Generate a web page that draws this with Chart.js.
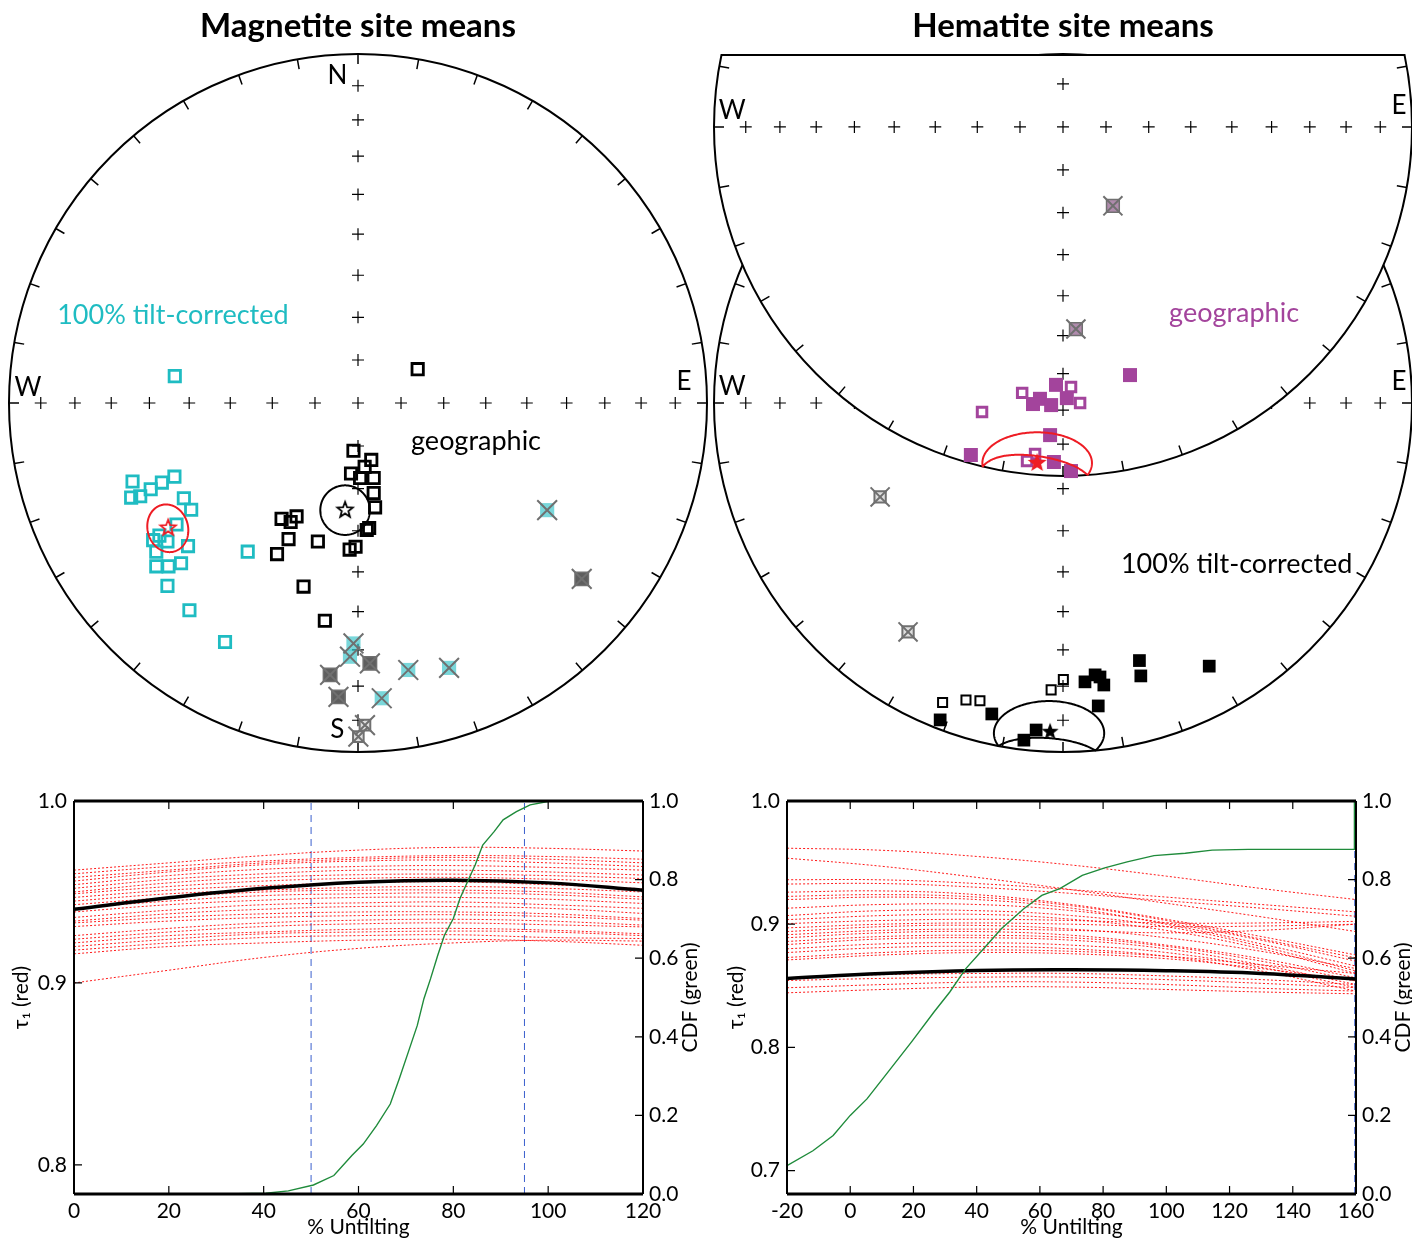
<!DOCTYPE html>
<html>
<head>
<meta charset="utf-8">
<script src="https://cdn.jsdelivr.net/npm/chart.js@4.4.0/dist/chart.umd.min.js"></script>
<style>
  body { margin: 0; background: #fff; }
  #fig { position: relative; width: 1412px; height: 1240px; overflow: hidden; }
  canvas { position: absolute; }
</style>
</head>
<body>
<div id="fig">
  <canvas id="magNet" width="710" height="770" style="left:0;top:0"></canvas>
  <canvas id="hemNet" width="706" height="770" style="left:706px;top:0"></canvas>
  <canvas id="magFold" width="710" height="470" style="left:0;top:770px"></canvas>
  <canvas id="hemFold" width="702" height="470" style="left:710px;top:770px"></canvas>
</div>
<script>
// site means on equal-area nets, unit radius, [east, north]
const magTiltSites = [[-0.646,-0.225],[-0.594,-0.247],[-0.562,-0.228],[-0.526,-0.211],[-0.650,-0.271],[-0.624,-0.267],
  [-0.499,-0.273],[-0.478,-0.306],[-0.520,-0.348],[-0.569,-0.380],[-0.546,-0.397],[-0.587,-0.393],[-0.578,-0.426],
  [-0.487,-0.410],[-0.578,-0.468],[-0.543,-0.468],[-0.507,-0.459],[-0.546,-0.524],[-0.483,-0.594],[-0.381,-0.685],
  [-0.316,-0.426],[-0.525,0.077]];
const magGeoSites = [[0.171,0.097],[-0.013,-0.137],[0.038,-0.163],[-0.020,-0.202],[0.019,-0.183],[0.006,-0.215],
  [0.045,-0.215],[0.045,-0.258],[0.049,-0.299],[0.032,-0.358],[0.025,-0.364],[-0.007,-0.412],[-0.024,-0.420],
  [-0.219,-0.332],[-0.176,-0.325],[-0.193,-0.341],[-0.199,-0.390],[-0.232,-0.433],[-0.115,-0.397],[-0.156,-0.526],
  [-0.095,-0.624]];
const magTiltRejected = [[-0.013,-0.689],[-0.023,-0.727],[0.068,-0.846],[0.144,-0.765],[0.261,-0.759],[0.542,-0.307]];
const magGeoRejected = [[0.034,-0.746],[-0.080,-0.779],[-0.056,-0.842],[0.641,-0.504]];
const magPoleRejected = [[0.020,-0.923],[0.001,-0.956]];
const magGeoMean = [-0.037,-0.304];
const magTiltMean = [-0.544,-0.355];
// confidence ellipses: centre x, centre y, semi-axis a, semi-axis b, rotation (deg)
const magGeoEllipse = [-0.037,-0.307,0.071,0.071,0];
const magTiltEllipse = [-0.545,-0.359,0.069,0.058,-75];

// hematite: geographic net sits above the tilt-corrected one
const GEO_SHIFT = 0.791;
const hemGeoFilled = [[-0.020,-0.739],[-0.066,-0.779],[-0.086,-0.794],[-0.034,-0.797],[0.011,-0.777],[0.192,-0.711],
  [-0.037,-0.883],[-0.264,-0.940],[-0.026,-0.960],[0.023,-0.986]];
const hemGeoOpen = [[-0.117,-0.762],[0.023,-0.745],[0.049,-0.791],[-0.232,-0.817],[-0.080,-0.937],[-0.103,-0.957]];
const hemGeoRejected = [[0.143,-0.226],[0.037,-0.579]];
const hemGeoMean = [-0.074,-0.960];
const hemGeoEllipse = [-0.074,-0.963,0.157,0.088,0];
const hemTiltFilled = [[0.219,-0.738],[0.419,-0.754],[0.223,-0.782],[0.063,-0.799],[0.092,-0.779],[0.106,-0.785],
  [0.117,-0.808],[0.101,-0.868],[-0.204,-0.891],[-0.352,-0.908],[-0.077,-0.937],[-0.112,-0.966]];
const hemTiltOpen = [[0.001,-0.792],[-0.034,-0.822],[-0.345,-0.858],[-0.278,-0.851],[-0.238,-0.853]];
const hemTiltRejected = [[-0.524,-0.269],[-0.444,-0.656]];
const hemTiltMean = [-0.037,-0.939];
const hemTiltEllipse = [-0.040,-0.946,0.158,0.092,0];

const netDips = [10, 20, 30, 40, 50, 60, 70, 80];
const magNetLabels = [['N',-0.059,0.938],['S',-0.059,-0.935],['W',-0.946,0.045],['E',0.934,0.060]];
const hemNetLabels = [['W',-0.948,0.046],['E',0.963,0.060]];

// fold test: tau1 against % untilting, bootstrap curves and CDF of maxima
const magUntilt = [0, 20, 40, 60, 80, 100, 120];
const magTauMean = [0.9405, 0.9468, 0.9520, 0.9554, 0.9565, 0.9550, 0.9510];
const magTauBoot = [
  [0.962,0.966,0.970,0.973,0.9745,0.974,0.9725],
  [0.960,0.964,0.967,0.969,0.970,0.9695,0.968],
  [0.958,0.962,0.966,0.968,0.969,0.968,0.966],
  [0.956,0.961,0.965,0.967,0.9675,0.966,0.964],
  [0.954,0.959,0.9625,0.964,0.9645,0.9635,0.962],
  [0.952,0.957,0.960,0.962,0.962,0.961,0.9593],
  [0.950,0.955,0.958,0.9595,0.9598,0.959,0.9574],
  [0.949,0.953,0.956,0.9575,0.958,0.957,0.955],
  [0.947,0.951,0.9535,0.955,0.9555,0.954,0.9518],
  [0.945,0.949,0.951,0.9525,0.953,0.952,0.950],
  [0.943,0.947,0.950,0.951,0.951,0.950,0.9473],
  [0.941,0.945,0.948,0.949,0.9495,0.9485,0.946],
  [0.939,0.943,0.9455,0.947,0.947,0.946,0.9437],
  [0.936,0.940,0.943,0.944,0.9445,0.943,0.941],
  [0.934,0.938,0.9405,0.942,0.942,0.941,0.9382],
  [0.933,0.936,0.938,0.939,0.939,0.938,0.9354],
  [0.931,0.934,0.936,0.937,0.9375,0.9365,0.9345],
  [0.926,0.930,0.933,0.9345,0.935,0.934,0.9318],
  [0.924,0.928,0.931,0.9325,0.933,0.932,0.9308],
  [0.922,0.926,0.928,0.9295,0.930,0.929,0.927],
  [0.920,0.924,0.927,0.928,0.9285,0.928,0.926],
  [0.918,0.922,0.925,0.926,0.9265,0.925,0.9244],
  [0.916,0.920,0.922,0.9235,0.924,0.923,0.9207],
  [0.900,0.907,0.914,0.919,0.922,0.9235,0.923]
];
const magCdf = [[31.4,0],[40.5,0.002],[45.2,0.008],[50.5,0.023],[54.8,0.047],[58.6,0.098],[61,0.127],[63.8,0.174],
  [66.7,0.229],[68.6,0.293],[70.5,0.361],[72.4,0.429],[73.8,0.497],[75.2,0.548],[76.7,0.607],[78.1,0.658],[80,0.701],
  [81.4,0.752],[83.3,0.803],[84.6,0.837],[86.2,0.888],[88.6,0.922],[90.5,0.952],[93.3,0.973],[96.2,0.990],[100.5,1.0]];
const magBounds = [50, 95];
const magTauTicks = [0.8, 0.9, 1.0];
const magUntiltTicks = [0, 20, 40, 60, 80, 100, 120];

const hemUntilt = [-20, 10, 40, 70, 100, 130, 160];
const hemTauMean = [0.8560, 0.8600, 0.8625, 0.8630, 0.8622, 0.8600, 0.8555];
const hemTauBoot = [
  [0.9617,0.9600,0.9550,0.9480,0.9390,0.9290,0.9200],
  [0.9536,0.9470,0.9380,0.9280,0.9170,0.9060,0.8940],
  [0.9361,0.9360,0.9330,0.9280,0.9220,0.9160,0.9100],
  [0.9326,0.9330,0.9300,0.9250,0.9190,0.9130,0.9064],
  [0.9260,0.9270,0.9240,0.9160,0.9040,0.8900,0.8750],
  [0.9226,0.9240,0.9220,0.9150,0.9030,0.8880,0.8727],
  [0.9200,0.9220,0.9200,0.9130,0.9000,0.8840,0.8660],
  [0.9130,0.9160,0.9160,0.9110,0.9010,0.8870,0.8700],
  [0.9070,0.9110,0.9110,0.9070,0.8980,0.8820,0.8620],
  [0.9037,0.9070,0.9080,0.9040,0.8950,0.8800,0.8600],
  [0.9005,0.9030,0.9040,0.9030,0.9010,0.9010,0.9023],
  [0.8970,0.9000,0.9010,0.9000,0.8980,0.8985,0.9000],
  [0.8940,0.8980,0.8990,0.8960,0.8890,0.8780,0.8640],
  [0.8915,0.8950,0.8960,0.8950,0.8930,0.8950,0.9000],
  [0.8890,0.8930,0.8940,0.8910,0.8830,0.8720,0.8565],
  [0.8860,0.8900,0.8910,0.8890,0.8820,0.8700,0.8540],
  [0.8835,0.8880,0.8890,0.8870,0.8800,0.8670,0.8510],
  [0.8800,0.8840,0.8850,0.8830,0.8770,0.8650,0.8485],
  [0.8770,0.8810,0.8820,0.8800,0.8740,0.8620,0.8457],
  [0.8730,0.8770,0.8790,0.8780,0.8740,0.8670,0.8600],
  [0.8710,0.8750,0.8770,0.8760,0.8720,0.8640,0.8540],
  [0.8565,0.8590,0.8600,0.8600,0.8580,0.8550,0.8510],
  [0.8543,0.8560,0.8570,0.8570,0.8550,0.8520,0.8485],
  [0.8484,0.8510,0.8530,0.8530,0.8510,0.8480,0.8457],
  [0.8443,0.8470,0.8490,0.8490,0.8470,0.8450,0.8435]
];
const hemCdf = [[-20,0],[-20,0.072],[-11.8,0.110],[-5.4,0.149],[0,0.2],[5.3,0.242],[12.3,0.314],[19.4,0.387],
  [26.5,0.463],[31.5,0.514],[36.5,0.573],[42.2,0.624],[47.8,0.675],[54.9,0.726],[60.6,0.760],[66.3,0.777],
  [73.4,0.811],[80.5,0.830],[87.6,0.845],[96.1,0.861],[106,0.867],[114.5,0.875],[125.9,0.877],[159.5,0.877],[159.5,1.0]];
const hemBounds = [159.6];
const hemTauTicks = [0.7, 0.8, 0.9, 1.0];
const hemUntiltTicks = [-20, 0, 20, 40, 60, 80, 100, 120, 140, 160];
const cdfTicks = [0, 0.2, 0.4, 0.6, 0.8, 1.0];

const FONT = 'Lato, "Noto Sans", sans-serif';
const CYAN = '#1fbcc2';
const MAGENTA = '#a3449c';
const RED = '#ee1c24';
const GREEN = '#1f8b3b';
const BLUE = '#3a5fcd';
const REJECT = '#707070';

// five-pointed star as a point image
function starImage(size, fill, stroke, lw) {
  const c = document.createElement('canvas');
  c.width = c.height = size;
  const g = c.getContext('2d');
  const ro = size / 2 - (stroke ? lw : 1), ri = ro * 0.42;
  g.beginPath();
  for (let i = 0; i < 10; i++) {
    const r = i % 2 ? ri : ro;
    const a = -Math.PI / 2 + i * Math.PI / 5;
    g.lineTo(size / 2 + r * Math.cos(a), size / 2 + 1 + r * Math.sin(a));
  }
  g.closePath();
  if (fill) { g.fillStyle = fill; g.fill(); }
  if (stroke) { g.lineWidth = lw; g.strokeStyle = stroke; g.stroke(); }
  return c;
}

function openSquare(color, r, lw, fill) {
  return { pointStyle: 'rect', pointRadius: r, pointBorderWidth: lw, pointBorderColor: color,
    pointBackgroundColor: fill || 'rgba(0,0,0,0)' };
}
function filledSquare(color, r, edge) {
  return { pointStyle: 'rect', pointRadius: r, pointBorderWidth: edge ? 1.5 : 0, pointBorderColor: edge || color,
    pointBackgroundColor: color };
}
function xMark(r) {
  return { pointStyle: 'crossRot', pointRadius: r, pointBorderWidth: 2, pointBorderColor: REJECT };
}
function markers(list, dy, style) {
  return Object.assign({ data: list.map(p => ({ x: p[0], y: p[1] + dy })), clip: false }, style);
}

function drawNet(chart, cy0, labels, cover) {
  const { ctx, chartArea: area, scales: { x, y } } = chart;
  const cx = x.getPixelForValue(0), cy = y.getPixelForValue(cy0);
  const R = x.getPixelForValue(1) - cx;
  ctx.save();
  ctx.beginPath();
  ctx.rect(0, cover ? area.top : 0, chart.width, chart.height);
  ctx.clip();
  ctx.beginPath();
  ctx.arc(cx, cy, R, 0, 2 * Math.PI);
  if (cover) { ctx.fillStyle = '#fff'; ctx.fill(); }
  ctx.strokeStyle = '#000';
  ctx.lineWidth = 2;
  ctx.stroke();
  if (cover) {
    const yt = area.top + 1, dx = Math.sqrt(R * R - (cy - yt) * (cy - yt));
    ctx.beginPath(); ctx.moveTo(cx - dx, yt); ctx.lineTo(cx + dx, yt); ctx.stroke();
  }
  ctx.lineWidth = 1.5;
  ctx.beginPath();
  for (let az = 0; az < 360; az += 10) {
    const s = Math.sin(az * Math.PI / 180), c = Math.cos(az * Math.PI / 180);
    ctx.moveTo(cx + s * R, cy - c * R);
    ctx.lineTo(cx + s * (R - 10), cy - c * (R - 10));
  }
  ctx.stroke();
  ctx.lineWidth = 1.2;
  ctx.beginPath();
  const offs = [0].concat(netDips.map(d => Math.SQRT2 * Math.sin((90 - d) / 2 * Math.PI / 180)));
  offs.forEach(r => {
    [[r, 0], [-r, 0], [0, r], [0, -r]].forEach(([u, v]) => {
      const px = cx + u * R, py = cy - v * R;
      ctx.moveTo(px - 6, py); ctx.lineTo(px + 6, py);
      ctx.moveTo(px, py - 6); ctx.lineTo(px, py + 6);
    });
  });
  ctx.stroke();
  ctx.fillStyle = '#000';
  ctx.font = `26px ${FONT}`;
  ctx.textAlign = 'center';
  ctx.textBaseline = 'middle';
  labels.forEach(([t, u, v]) => ctx.fillText(t, x.getPixelForValue(u), y.getPixelForValue(v + cy0)));
  ctx.restore();
}

// ellipse on the net; parts running past the primitive fold back inside
function drawEllipse(chart, e, dy, color) {
  const { ctx, scales: { x, y } } = chart;
  const [ex, ey, a, b, rotDeg] = e;
  const rot = rotDeg * Math.PI / 180;
  ctx.save();
  ctx.beginPath();
  for (let i = 0; i <= 240; i++) {
    const t = i / 240 * 2 * Math.PI;
    let u = ex + a * Math.cos(t) * Math.cos(rot) - b * Math.sin(t) * Math.sin(rot);
    let v = ey + a * Math.cos(t) * Math.sin(rot) + b * Math.sin(t) * Math.cos(rot);
    const r = Math.hypot(u, v);
    if (r > 1) { u *= (2 - r) / r; v *= (2 - r) / r; }
    const px = x.getPixelForValue(u), py = y.getPixelForValue(v + dy);
    if (i) ctx.lineTo(px, py); else ctx.moveTo(px, py);
  }
  ctx.strokeStyle = color;
  ctx.lineWidth = 2;
  ctx.stroke();
  ctx.restore();
}

function drawLabel(chart, text, pos, color) {
  const { ctx, scales: { x, y } } = chart;
  ctx.save();
  ctx.font = `27px ${FONT}`;
  ctx.fillStyle = color;
  ctx.textAlign = 'left';
  ctx.textBaseline = 'alphabetic';
  ctx.fillText(text, x.getPixelForValue(pos[0]), y.getPixelForValue(pos[1]));
  ctx.restore();
}

function netOptions(title, padding) {
  return {
    responsive: false, animation: false, devicePixelRatio: 1, events: [],
    layout: { padding, autoPadding: false },
    scales: {
      x: { type: 'linear', min: -1, max: 1, display: false },
      y: { type: 'linear', min: -1, max: 1, display: false }
    },
    plugins: {
      legend: { display: false },
      tooltip: { enabled: false },
      title: { display: true, text: title, color: '#000',
        font: { family: FONT, size: 33, weight: 'bold', lineHeight: 1.2 }, padding: { top: 7, bottom: 7.4 } }
    }
  };
}

function stack(sets) {
  sets.forEach((d, i) => { d.order = sets.length - i; });
  return sets;
}

// Magnetite net
const magSets = stack([
  markers(magTiltSites, 0, openSquare(CYAN, 8, 2.8)),
  markers(magGeoSites, 0, openSquare('#000', 8, 2.8)),
  markers(magTiltRejected, 0, filledSquare('rgba(31,188,194,0.6)', 10)),
  markers(magGeoRejected, 0, filledSquare('#5e5e5e', 9.5, '#707070')),
  markers(magPoleRejected, 0, openSquare(REJECT, 7.5, 2, 'rgba(150,150,150,0.3)')),
  markers(magTiltRejected.concat(magGeoRejected, magPoleRejected), 0, xMark(14)),
  markers([magGeoMean], 0, { pointStyle: starImage(20, null, '#000', 1.8), pointRadius: 10 }),
  markers([magTiltMean], 0, { pointStyle: starImage(20, null, RED, 1.8), pointRadius: 10 })
]);

new Chart(document.getElementById('magNet'), {
  type: 'scatter',
  data: { datasets: magSets },
  options: netOptions('Magnetite site means', { left: 9, right: 3, top: 0, bottom: 18 }),
  plugins: [{
    id: 'magLayers',
    beforeDatasetsDraw(chart) { drawNet(chart, 0, magNetLabels, false); },
    beforeDatasetDraw(chart, args) {
      if (args.index === 6) {
        drawEllipse(chart, magGeoEllipse, 0, '#000');
        drawEllipse(chart, magTiltEllipse, 0, RED);
      }
    },
    afterDatasetsDraw(chart) {
      drawLabel(chart, '100% tilt-corrected', [-0.862, 0.226], CYAN);
      drawLabel(chart, 'geographic', [0.152, -0.135], '#000');
    }
  }]
});

// Hematite nets
const hemSets = stack([
  markers(hemTiltOpen, 0, openSquare('#000', 6.4, 2)),
  markers(hemTiltFilled, 0, filledSquare('#000', 9)),
  markers(hemTiltRejected, 0, openSquare(REJECT, 8, 2, 'rgba(150,150,150,0.3)')),
  markers(hemTiltRejected, 0, xMark(13.5)),
  markers([hemTiltMean], 0, { pointStyle: starImage(20, '#000', null, 0), pointRadius: 10 }),
  markers(hemGeoFilled, GEO_SHIFT, filledSquare(MAGENTA, 9.9)),
  markers(hemGeoOpen, GEO_SHIFT, openSquare(MAGENTA, 6.7, 3, '#fff')),
  markers(hemGeoRejected, GEO_SHIFT, filledSquare('rgba(150,100,145,0.75)', 9, REJECT)),
  markers(hemGeoRejected, GEO_SHIFT, xMark(13.5)),
  markers([hemGeoMean], GEO_SHIFT, { pointStyle: starImage(22, RED, null, 0), pointRadius: 11 })
]);

new Chart(document.getElementById('hemNet'), {
  type: 'scatter',
  data: { datasets: hemSets },
  options: netOptions('Hematite site means', { left: 8, right: 0, top: 0, bottom: 18 }),
  plugins: [{
    id: 'hemLayers',
    beforeDatasetsDraw(chart) { drawNet(chart, 0, hemNetLabels, false); },
    beforeDatasetDraw(chart, args) {
      if (args.index === 4) drawEllipse(chart, hemTiltEllipse, 0, '#000');
      if (args.index === 5) drawNet(chart, GEO_SHIFT, hemNetLabels, true);
      if (args.index === 9) drawEllipse(chart, hemGeoEllipse, GEO_SHIFT, RED);
    },
    afterDatasetsDraw(chart) {
      drawLabel(chart, 'geographic', [0.304, 0.232], MAGENTA);
      drawLabel(chart, '100% tilt-corrected', [0.166, -0.487], '#000');
    }
  }]
});

// fold-test panels
function series(xs, ys, style) {
  return Object.assign({ data: xs.map((v, i) => ({ x: v, y: ys[i] })), pointRadius: 0, fill: false }, style);
}

function fixedTicks(vals) {
  return axis => { axis.ticks = vals.map(v => ({ value: v })); };
}

function foldFrame(rightTitle) {
  return {
    id: 'foldFrame',
    afterDatasetsDraw(chart) {
      const { ctx, chartArea: a, scales } = chart;
      ctx.save();
      ctx.strokeStyle = '#000';
      ctx.lineWidth = 1.2;
      ctx.beginPath();
      scales.x.ticks.forEach(t => {
        const p = scales.x.getPixelForValue(t.value);
        ctx.moveTo(p, a.bottom); ctx.lineTo(p, a.bottom - 8);
        ctx.moveTo(p, a.top); ctx.lineTo(p, a.top + 8);
      });
      scales.y.ticks.forEach(t => {
        const p = scales.y.getPixelForValue(t.value);
        ctx.moveTo(a.left, p); ctx.lineTo(a.left + 8, p);
      });
      scales.y2.ticks.forEach(t => {
        const p = scales.y2.getPixelForValue(t.value);
        ctx.moveTo(a.right, p); ctx.lineTo(a.right - 8, p);
      });
      ctx.stroke();
      ctx.lineWidth = 3;
      ctx.beginPath();
      ctx.moveTo(a.left, a.top); ctx.lineTo(a.right, a.top);
      ctx.moveTo(a.left, a.bottom); ctx.lineTo(a.right, a.bottom);
      ctx.stroke();
      ctx.lineWidth = 2;
      ctx.beginPath();
      ctx.moveTo(a.left, a.top); ctx.lineTo(a.left, a.bottom);
      ctx.moveTo(a.right, a.top); ctx.lineTo(a.right, a.bottom);
      ctx.stroke();
      // right-hand axis title reads bottom to top, like the left one
      ctx.translate(a.right + 47, (a.top + a.bottom) / 2);
      ctx.rotate(-Math.PI / 2);
      ctx.font = `21px ${FONT}`;
      ctx.fillStyle = '#000';
      ctx.textAlign = 'center';
      ctx.textBaseline = 'middle';
      ctx.fillText(rightTitle, 0, 0);
      ctx.restore();
    }
  };
}

function foldChart(id, cfg) {
  const sets = [];
  sets.push(series(cfg.cdf.map(p => p[0]), cfg.cdf.map(p => p[1]),
    { borderColor: GREEN, borderWidth: 1.4, yAxisID: 'y2', tension: 0, clip: false }));
  sets.push(series(cfg.untilt, cfg.mean, { borderColor: '#000', borderWidth: 3.5, yAxisID: 'y', tension: 0.4 }));
  cfg.boot.forEach(row => sets.push(series(cfg.untilt, row,
    { borderColor: 'rgba(255,0,0,0.9)', borderWidth: 1, borderDash: [2, 2], yAxisID: 'y', tension: 0.4 })));
  cfg.bounds.forEach(b => sets.push(series([b, b], [0, 1],
    { borderColor: BLUE, borderWidth: 1, borderDash: [7, 5], yAxisID: 'y2', clip: false })));

  const tickFont = { family: FONT, size: 21 };
  const noGrid = { display: false, drawTicks: false };
  return new Chart(document.getElementById(id), {
    type: 'line',
    data: { datasets: sets },
    options: {
      responsive: false, animation: false, devicePixelRatio: 1, events: [],
      layout: { padding: { top: 31, left: 0, right: 0, bottom: 0 }, autoPadding: false },
      plugins: { legend: { display: false }, tooltip: { enabled: false } },
      scales: {
        x: {
          type: 'linear', min: cfg.xRange[0], max: cfg.xRange[1],
          afterBuildTicks: fixedTicks(cfg.xTicks),
          afterFit: s => { s.height = 46; },
          grid: noGrid, border: { display: false },
          ticks: { font: tickFont, color: '#000', padding: 5, maxRotation: 0, autoSkip: false },
          title: { display: true, text: '% Untilting', color: '#000', font: tickFont, padding: { top: 0, bottom: 0 } }
        },
        y: {
          position: 'left', min: cfg.yRange[0], max: cfg.yRange[1],
          afterBuildTicks: fixedTicks(cfg.yTicks),
          afterFit: s => { s.width = cfg.leftWidth; },
          grid: noGrid, border: { display: false },
          ticks: { font: tickFont, color: '#000', padding: cfg.leftPad, callback: v => v.toFixed(1) },
          title: { display: true, text: 'τ₁ (red)', color: '#000', font: tickFont, padding: { top: cfg.titlePad, bottom: 0 } }
        },
        y2: {
          position: 'right', min: 0, max: 1,
          afterBuildTicks: fixedTicks(cdfTicks),
          afterFit: s => { s.width = cfg.rightWidth; },
          grid: noGrid, border: { display: false },
          ticks: { font: tickFont, color: '#000', padding: 6, callback: v => v.toFixed(1) }
        }
      }
    },
    plugins: [foldFrame('CDF (green)')]
  });
}

foldChart('magFold', {
  untilt: magUntilt, mean: magTauMean, boot: magTauBoot, cdf: magCdf, bounds: magBounds,
  xRange: [0, 120], xTicks: magUntiltTicks, yRange: [0.784, 1.0], yTicks: magTauTicks,
  leftWidth: 74, rightWidth: 67, leftPad: 7, titlePad: 9
});

foldChart('hemFold', {
  untilt: hemUntilt, mean: hemTauMean, boot: hemTauBoot, cdf: hemCdf, bounds: hemBounds,
  xRange: [-20, 160], xTicks: hemUntiltTicks, yRange: [0.681, 1.0], yTicks: hemTauTicks,
  leftWidth: 77, rightWidth: 56, leftPad: 7, titlePad: 14
});
</script>
</body>
</html>
